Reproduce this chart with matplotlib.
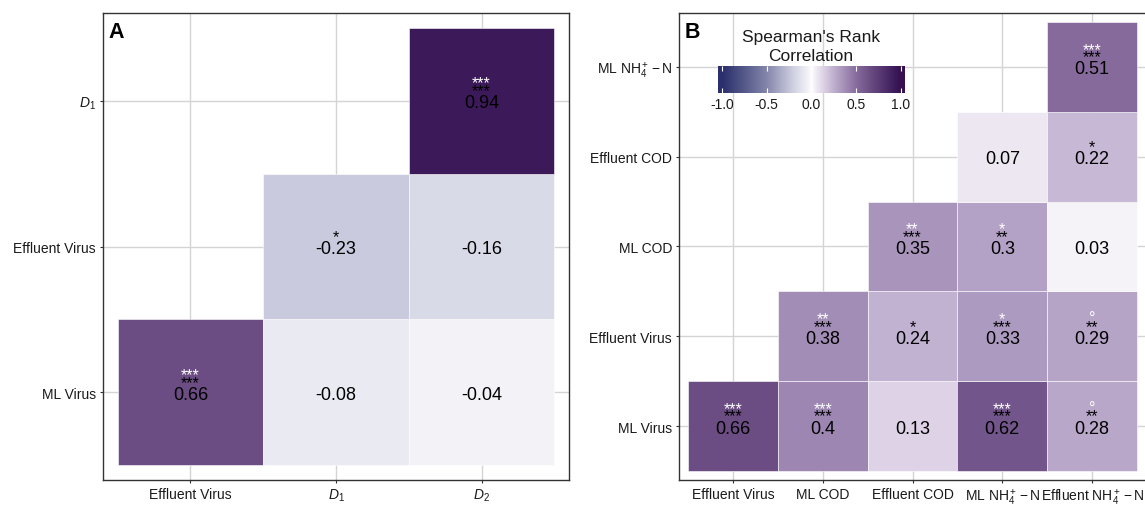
import numpy as np
import matplotlib
matplotlib.use("Agg")
import matplotlib.pyplot as plt
from matplotlib.colors import LinearSegmentedColormap
from matplotlib.patches import Rectangle

plt.rcParams["font.family"] = ["Liberation Sans", "DejaVu Sans"]
plt.rcParams["mathtext.fontset"] = "custom"
plt.rcParams["mathtext.rm"] = "Liberation Sans"
plt.rcParams["mathtext.it"] = "Liberation Sans:italic"
plt.rcParams["mathtext.bf"] = "Liberation Sans:bold"

NA = np.nan
NH4_ML = r"ML NH$_4^+\,{-}\,\mathrm{N}$"
NH4_EFF = r"Effluent NH$_4^+\,{-}\,\mathrm{N}$"

# panel A: rows listed bottom to top
A_X = ["Effluent Virus", r"$D_1$", r"$D_2$"]
A_Y = ["ML Virus", "Effluent Virus", r"$D_1$"]
A_RHO = [[0.66, -0.08, -0.04],
         [NA, -0.23, -0.16],
         [NA, NA, 0.94]]
A_SIG_DARK = [["***", "", ""],
              ["", "*", ""],
              ["", "", "***"]]
A_SIG_LIGHT = [["***", "", ""],
               ["", "", ""],
               ["", "", "***"]]

# panel B: rows listed bottom to top
B_X = ["Effluent Virus", "ML COD", "Effluent COD", NH4_ML, NH4_EFF]
B_Y = ["ML Virus", "Effluent Virus", "ML COD", "Effluent COD", NH4_ML]
B_RHO = [[0.66, 0.40, 0.13, 0.62, 0.28],
         [NA, 0.38, 0.24, 0.33, 0.29],
         [NA, NA, 0.35, 0.30, 0.03],
         [NA, NA, NA, 0.07, 0.22],
         [NA, NA, NA, NA, 0.51]]
B_SIG_DARK = [["***", "***", "", "***", "**"],
              ["", "***", "*", "***", "**"],
              ["", "", "***", "**", ""],
              ["", "", "", "", "*"],
              ["", "", "", "", "***"]]
B_SIG_LIGHT = [["***", "***", "", "***", "\u00b0"],
               ["", "**", "", "*", "\u00b0"],
               ["", "", "**", "*", ""],
               ["", "", "", "", ""],
               ["", "", "", "", "***"]]

CBAR_TICKS = [-1.0, -0.5, 0.0, 0.5, 1.0]

# diverging palette: blue for negative rho, purple for positive rho
PAL_STOPS = [-1.0, -0.75, -0.5, -0.23, -0.16, -0.08, -0.04, 0.0,
             0.03, 0.13, 0.24, 0.38, 0.51, 0.66, 0.94, 1.0]
PAL_COLORS = ["#2b2f6c", "#555a8a", "#8586ab", "#c9cadd", "#d9dae7",
              "#eaeaf2", "#f3f3f7", "#ffffff",
              "#f5f3f8", "#ded3e6", "#c2b2d1", "#a28db6", "#866a9c",
              "#6b4d83", "#3c1a5a", "#36104f"]
CMAP = LinearSegmentedColormap.from_list(
    "rho", [((s + 1) / 2, c) for s, c in zip(PAL_STOPS, PAL_COLORS)], N=512)

W, H = 1145, 506


def fmt(v):
    return ("%.2f" % v).rstrip("0")


def draw_panel(ax, xcats, ycats, rho, sig_dark, sig_light, tag):
    rho = np.array(rho, dtype=float)
    ny, nx = rho.shape
    ax.set_xlim(0.4, nx + 0.6)
    ax.set_ylim(0.4, ny + 0.6)
    ax.set_xticks(range(1, nx + 1))
    ax.set_xticklabels(xcats)
    ax.set_yticks(range(1, ny + 1))
    ax.set_yticklabels(ycats)
    ax.grid(True, color="#d4d4d4", lw=1.0)
    ax.set_axisbelow(True)

    for r in range(ny):
        for c in range(nx):
            v = rho[r, c]
            if np.isnan(v):
                continue
            x, y = c + 1, r + 1
            ax.add_patch(Rectangle((x - 0.5, y - 0.5), 1, 1,
                                   facecolor=CMAP((v + 1) / 2),
                                   edgecolor="white", lw=0.4, zorder=1))
            ax.annotate(fmt(v), (x, y), xytext=(0, -4.7),
                        textcoords="offset points", ha="center",
                        va="baseline", fontsize=13, color="black", zorder=3)
            if sig_dark[r][c]:
                ax.annotate(sig_dark[r][c], (x, y), xytext=(0, 4.0),
                            textcoords="offset points", ha="center",
                            va="baseline", fontsize=11.5, color="black",
                            zorder=3)
            if sig_light[r][c]:
                ax.annotate(sig_light[r][c], (x, y), xytext=(0, 9.4),
                            textcoords="offset points", ha="center",
                            va="baseline", fontsize=11.5, color="white",
                            zorder=4)

    for s in ax.spines.values():
        s.set_color("#333333")
        s.set_linewidth(1.0)
    ax.tick_params(length=2.5, width=0.8, color="#333333", pad=2.5,
                   labelsize=10, labelcolor="#1a1a1a")
    ax.text(0.011, 0.983, tag, transform=ax.transAxes, ha="left", va="top",
            fontsize=15.5, fontweight="bold", zorder=5)


fig = plt.figure(figsize=(W / 100, H / 100), dpi=100)


def px_axes(x0, y0, x1, y1):
    return fig.add_axes([x0 / W, 1 - y1 / H, (x1 - x0) / W, (y1 - y0) / H])


ax_a = px_axes(103, 14, 569, 481)
draw_panel(ax_a, A_X, A_Y, A_RHO, A_SIG_DARK, A_SIG_LIGHT, "A")

ax_b = px_axes(679, 14, 1146, 481)
draw_panel(ax_b, B_X, B_Y, B_RHO, B_SIG_DARK, B_SIG_LIGHT, "B")

# colour bar legend sitting inside panel B
cax = px_axes(718, 67, 905, 94)
grad = np.linspace(-1.045, 1.045, 400)[None, :]
cax.imshow(grad, cmap=CMAP, vmin=-1, vmax=1, aspect="auto",
           extent=[-1.045, 1.045, 0, 1], interpolation="bilinear")
cax.set_xlim(-1.045, 1.045)
cax.set_ylim(0, 1)
cax.vlines(CBAR_TICKS, 0, 0.2, color="white", lw=0.8)
cax.vlines(CBAR_TICKS, 0.8, 1, color="white", lw=0.8)
cax.set_xticks(CBAR_TICKS)
cax.set_xticklabels(["%.1f" % t for t in CBAR_TICKS])
cax.set_yticks([])
cax.tick_params(length=0, pad=3, labelsize=10, labelcolor="#1a1a1a")
for s in cax.spines.values():
    s.set_visible(False)

fig.text(811 / W, 1 - 41.7 / H, "Spearman's Rank", ha="center",
         va="baseline", fontsize=12.5, color="#1a1a1a")
fig.text(811 / W, 1 - 60.7 / H, "Correlation", ha="center",
         va="baseline", fontsize=12.5, color="#1a1a1a")

fig.savefig("out.png", dpi=100)
